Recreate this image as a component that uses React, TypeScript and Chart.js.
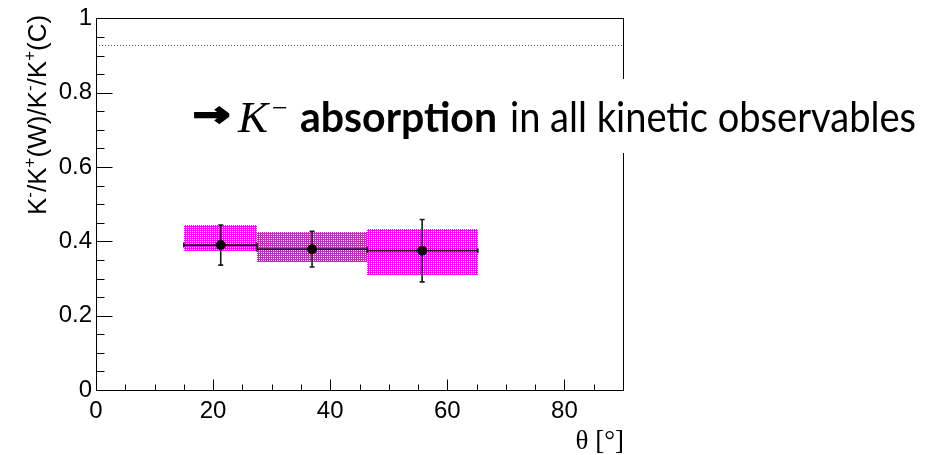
import { useEffect, useRef } from "react";
import { Chart, registerables } from "chart.js";

Chart.register(...registerables);

// Angular bins (degrees) and the measured double ratio per bin
const binLow = [15, 27.5, 46.3];
const binHigh = [27.5, 46.3, 65.2];
const thetaMean = [21.3, 36.9, 55.7];
const ratio = [0.39, 0.379, 0.375];
const statErr = [0.054, 0.048, 0.084];
const sysLow = [0.3735, 0.344, 0.309];
const sysHigh = [0.445, 0.425, 0.433];

// Horizontal reference level (dotted line)
const referenceLevel = 0.928;

// Axis ranges and tick spacing
const xRange = [0, 90];
const yRange = [0, 1];
const xMajorStep = 20;
const xMinorStep = 5;
const yMajorStep = 0.2;
const yMinorStep = 0.05;

const W = 940;
const H = 455;

const SANS = "'Liberation Sans', Arial, Helvetica, sans-serif";
const SERIF = "'Liberation Serif', 'Times New Roman', serif";
const TEXT = "Lato, 'Open Sans', sans-serif";

// Dotted magenta fill used for the systematic boxes
function fillDotted(ctx: CanvasRenderingContext2D, x0: number, y0: number, x1: number, y1: number) {
  ctx.fillStyle = "#ff00ff";
  ctx.fillRect(x0, y0, x1 - x0, y1 - y0);
  ctx.fillStyle = "#ffffff";
  for (let py = y0; py < y1; py += 2) {
    for (let px = x0; px < x1; px += 2) {
      ctx.fillRect(px, py, 1, 1);
    }
  }
}

function fitText(
  ctx: CanvasRenderingContext2D,
  text: string,
  font: string,
  x: number,
  y: number,
  width: number,
  outline = 0
) {
  ctx.font = font;
  const w = ctx.measureText(text).width;
  ctx.save();
  ctx.translate(x, y);
  ctx.scale(width / w, 1);
  ctx.fillText(text, 0, 0);
  if (outline > 0) {
    ctx.lineWidth = outline;
    ctx.strokeStyle = ctx.fillStyle as string;
    ctx.lineJoin = "miter";
    ctx.strokeText(text, 0, 0);
  }
  ctx.restore();
}

const plotDecor = {
  id: "plotDecor",
  beforeDatasetsDraw(chart: any) {
    const { ctx } = chart;
    const xs = chart.scales.x;
    const ys = chart.scales.y;
    const area = chart.chartArea;

    // dotted reference line
    ctx.save();
    ctx.strokeStyle = "#555";
    ctx.lineWidth = 1;
    ctx.setLineDash([1, 2]);
    const yr = Math.round(ys.getPixelForValue(referenceLevel)) + 0.5;
    ctx.beginPath();
    ctx.moveTo(area.left, yr);
    ctx.lineTo(area.right, yr);
    ctx.stroke();
    ctx.restore();

    // systematic uncertainty boxes
    ctx.save();
    for (let i = 0; i < ratio.length; i++) {
      const x0 = Math.round(xs.getPixelForValue(binLow[i]));
      const x1 = Math.round(xs.getPixelForValue(binHigh[i]));
      const y0 = Math.round(ys.getPixelForValue(sysHigh[i]));
      const y1 = Math.round(ys.getPixelForValue(sysLow[i]));
      fillDotted(ctx, x0, y0, x1, y1);
    }
    ctx.restore();

    // statistical error bars and bin widths
    ctx.save();
    ctx.strokeStyle = "#1a1a1a";
    ctx.lineWidth = 1.6;
    const cap = 2.5;
    for (let i = 0; i < ratio.length; i++) {
      const xc = xs.getPixelForValue(thetaMean[i]);
      const yc = ys.getPixelForValue(ratio[i]);
      const xl = xs.getPixelForValue(binLow[i]);
      const xh = xs.getPixelForValue(binHigh[i]);
      const yt = ys.getPixelForValue(ratio[i] + statErr[i]);
      const yb = ys.getPixelForValue(ratio[i] - statErr[i]);
      ctx.beginPath();
      ctx.moveTo(xl, yc);
      ctx.lineTo(xh, yc);
      ctx.moveTo(xl, yc - cap);
      ctx.lineTo(xl, yc + cap);
      ctx.moveTo(xh, yc - cap);
      ctx.lineTo(xh, yc + cap);
      ctx.moveTo(xc, yt);
      ctx.lineTo(xc, yb);
      ctx.moveTo(xc - cap, yt);
      ctx.lineTo(xc + cap, yt);
      ctx.moveTo(xc - cap, yb);
      ctx.lineTo(xc + cap, yb);
      ctx.stroke();
    }
    ctx.restore();
  },
  afterDatasetsDraw(chart: any) {
    const { ctx } = chart;
    const xs = chart.scales.x;
    const ys = chart.scales.y;
    const area = chart.chartArea;
    const L = Math.round(area.left) + 0.5;
    const R = Math.round(area.right) + 0.5;
    const T = Math.round(area.top) + 0.5;
    const B = Math.round(area.bottom) + 0.5;

    ctx.save();
    ctx.strokeStyle = "#000";
    ctx.lineWidth = 1;
    ctx.strokeRect(L, T, R - L, B - T);

    // inward tick marks
    ctx.beginPath();
    const nx = Math.round((xRange[1] - xRange[0]) / xMinorStep);
    for (let k = 0; k <= nx; k++) {
      const v = xRange[0] + k * xMinorStep;
      const major = Math.abs(v / xMajorStep - Math.round(v / xMajorStep)) < 1e-6;
      const px = Math.round(xs.getPixelForValue(v)) + 0.5;
      ctx.moveTo(px, B);
      ctx.lineTo(px, B - (major ? 11 : 6));
    }
    const ny = Math.round((yRange[1] - yRange[0]) / yMinorStep);
    for (let k = 0; k <= ny; k++) {
      const v = yRange[0] + k * yMinorStep;
      const major = Math.abs(v / yMajorStep - Math.round(v / yMajorStep)) < 1e-6;
      const py = Math.round(ys.getPixelForValue(v)) + 0.5;
      ctx.moveTo(L, py);
      ctx.lineTo(L + (major ? 16 : 8), py);
    }
    ctx.stroke();
    ctx.restore();
  },
  afterDraw(chart: any) {
    const { ctx } = chart;

    // y axis title with superscripts
    ctx.save();
    ctx.fillStyle = "#000";
    ctx.translate(46, 215);
    ctx.rotate(-Math.PI / 2);
    ctx.textBaseline = "alphabetic";
    const big = `26px ${SANS}`;
    const small = `17px ${SANS}`;
    const parts: [string, boolean][] = [
      ["K", false], ["-", true], ["/K", false], ["+", true], ["(W)/K", false],
      ["-", true], ["/K", false], ["+", true], ["(C)", false],
    ];
    let cx = 0;
    for (const [t, sup] of parts) {
      ctx.font = sup ? small : big;
      ctx.fillText(t, cx, sup ? -11 : 0);
      cx += ctx.measureText(t).width;
    }
    ctx.restore();

    // x axis title
    ctx.save();
    ctx.fillStyle = "#000";
    ctx.font = `27px ${SERIF}`;
    ctx.textAlign = "right";
    ctx.textBaseline = "alphabetic";
    ctx.fillText("θ [°]", 624, 449);
    ctx.restore();

    // annotation with white backing
    ctx.save();
    ctx.fillStyle = "#fff";
    ctx.fillRect(186, 79, 754, 74);
    ctx.fillStyle = "#000";
    ctx.textBaseline = "middle";
    fitText(ctx, "→", `bold 34px 'DejaVu Sans', sans-serif`, 193, 117, 37, 2.2);
    ctx.textBaseline = "alphabetic";
    ctx.font = `italic 45px ${SERIF}`;
    ctx.fillText("K", 238, 132);
    ctx.font = `28px ${SERIF}`;
    ctx.fillText("−", 272, 117);
    fitText(ctx, "absorption", `bold 42px ${TEXT}`, 300, 132, 197);
    fitText(ctx, "in all kinetic observables", `42px ${TEXT}`, 510, 132, 406);
    ctx.restore();
  },
};

export default function App() {
  const ref = useRef<HTMLCanvasElement | null>(null);

  useEffect(() => {
    if (!ref.current) return;
    const chart = new Chart(ref.current, {
      type: "scatter",
      data: {
        datasets: [
          {
            data: thetaMean.map((t, i) => ({ x: t, y: ratio[i] })),
            backgroundColor: "#000",
            borderColor: "#000",
            pointRadius: 5,
            pointBorderWidth: 0,
            pointHoverRadius: 5,
          },
        ],
      },
      options: {
        responsive: false,
        animation: false,
        devicePixelRatio: 1,
        events: [],
        layout: { padding: { left: 0, top: 17, right: W - 623, bottom: 0 } },
        plugins: {
          legend: { display: false },
          tooltip: { enabled: false },
        },
        scales: {
          x: {
            type: "linear",
            min: xRange[0],
            max: xRange[1],
            grid: { display: false, drawTicks: false },
            border: { display: false },
            ticks: {
              stepSize: xMajorStep,
              includeBounds: false,
              color: "#000",
              padding: 7,
              maxRotation: 0,
              font: { family: SANS, size: 24 },
            },
            afterFit: (s: any) => {
              s.height = H - 390;
            },
          },
          y: {
            type: "linear",
            min: yRange[0],
            max: yRange[1],
            grid: { display: false, drawTicks: false },
            border: { display: false },
            ticks: {
              stepSize: yMajorStep,
              color: "#000",
              padding: 4,
              font: { family: SANS, size: 24 },
              callback: (v: any) => String(Number(Number(v).toFixed(2))),
            },
            afterFit: (s: any) => {
              s.width = 96;
            },
          },
        },
      },
      plugins: [plotDecor],
    });
    return () => chart.destroy();
  }, []);

  return (
    <div style={{ position: "absolute", left: 0, top: 0, width: W, height: H, background: "#fff" }}>
      <canvas ref={ref} width={W} height={H} style={{ width: W, height: H, display: "block" }} />
    </div>
  );
}
